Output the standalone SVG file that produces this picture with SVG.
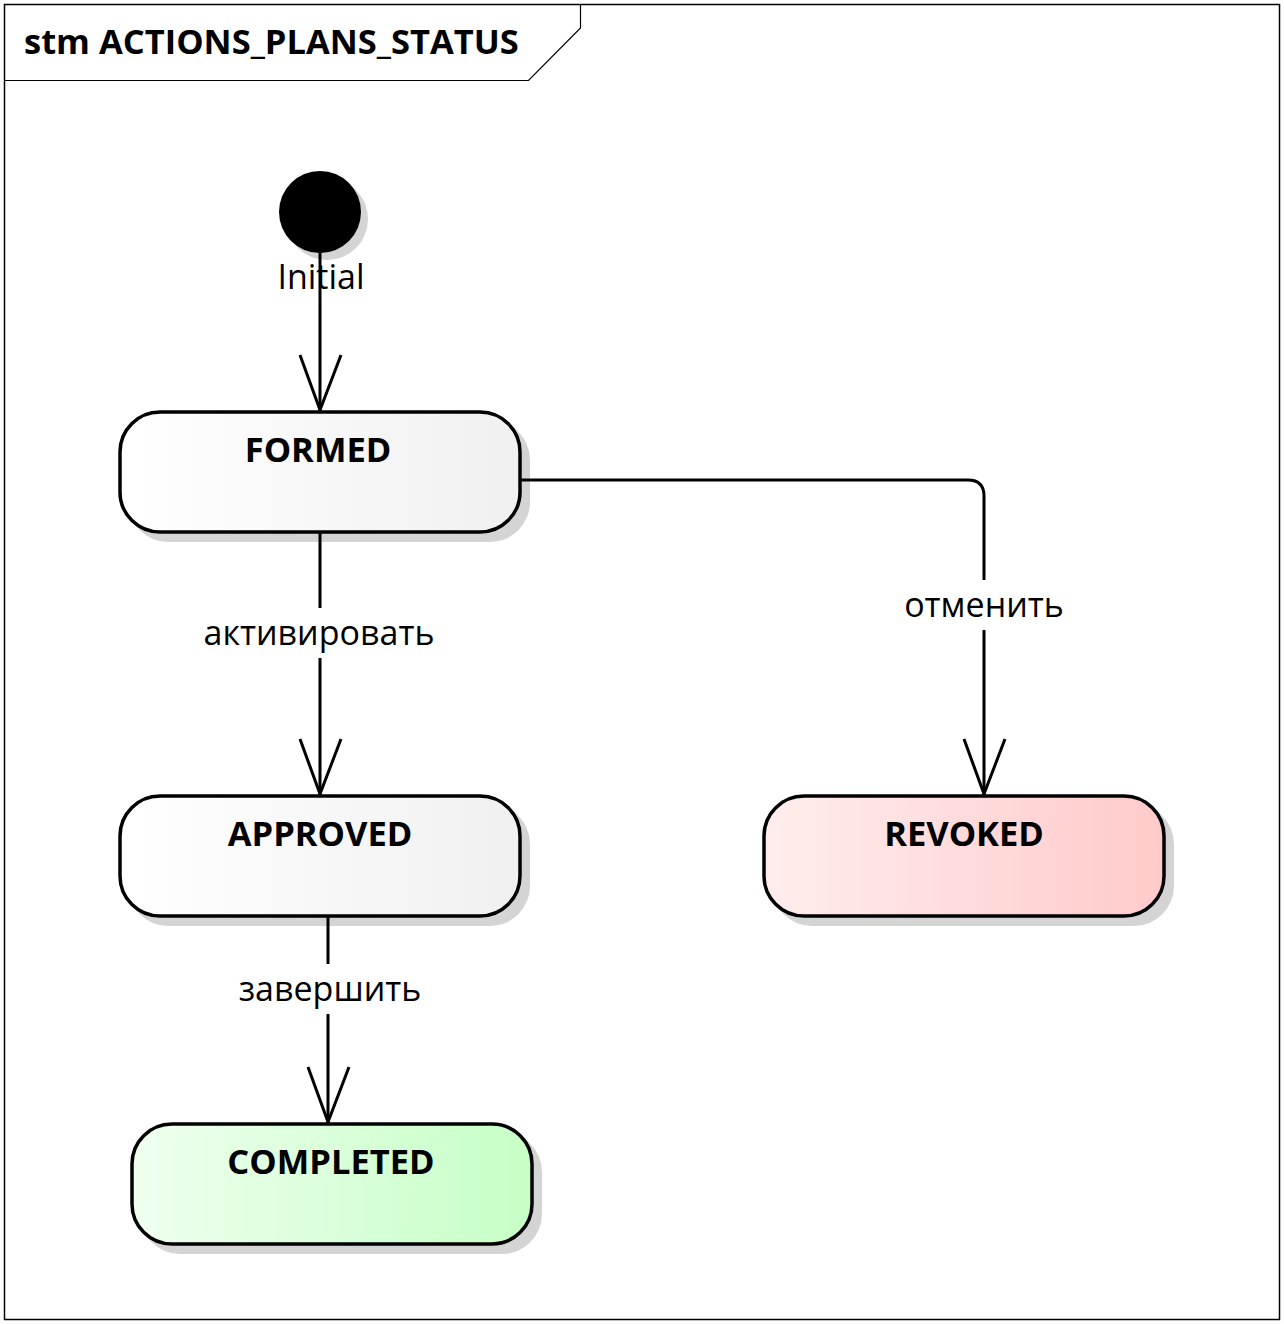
<svg xmlns="http://www.w3.org/2000/svg" width="1284" height="1324" viewBox="0 0 1284 1324">
<style>
.frame{fill:#fff;stroke:#000;stroke-width:1.5}
.hdr{fill:none;stroke:#000;stroke-width:1.2}
.title{font-family:"Open Sans","Noto Sans","DejaVu Sans",sans-serif;font-weight:bold;font-size:34.5px;fill:#000}
.st{stroke:#000;stroke-width:3.5}
.shadow{fill:#d4d4d4}
.name{font-family:"Open Sans","Noto Sans","DejaVu Sans",sans-serif;font-weight:bold;font-size:34.5px;fill:#000;text-anchor:middle}
.lbl{font-family:"Open Sans","Noto Sans","DejaVu Sans",sans-serif;font-size:34px;fill:#000;text-anchor:middle}
.conn{fill:none;stroke:#000;stroke-width:3}
.arr{fill:none;stroke:#000;stroke-width:3}
</style>
<defs>
<linearGradient id="gGray" x1="0" y1="0" x2="1" y2="0"><stop offset="0" stop-color="#ffffff"/><stop offset="1" stop-color="#f0f0f0"/></linearGradient>
<linearGradient id="gRed" x1="0" y1="0" x2="1" y2="0"><stop offset="0" stop-color="#ffeded"/><stop offset="1" stop-color="#ffcaca"/></linearGradient>
<linearGradient id="gGreen" x1="0" y1="0" x2="1" y2="0"><stop offset="0" stop-color="#efffef"/><stop offset="1" stop-color="#c6ffc6"/></linearGradient>
</defs>
<rect x="0" y="0" width="1284" height="1324" fill="#fff"/>
<rect class="frame" x="4.5" y="4.5" width="1275" height="1315"/>
<path class="hdr" d="M4.5 80.5 H528.5 L580.5 28 V4.5"/>
<text class="title" x="24" y="54">stm ACTIONS_PLANS_STATUS</text>

<g id="initial">
<circle class="shadow" cx="327" cy="219" r="41"/>
<circle cx="320" cy="212" r="41" fill="#000"/>
<text class="lbl" x="321" y="289">Initial</text>
</g>

<g id="FORMED">
<rect class="shadow" x="128" y="420" width="402" height="122" rx="40"/>
<rect class="st" x="120" y="412" width="400" height="120" rx="40" fill="url(#gGray)"/>
<text class="name" x="318" y="462">FORMED</text>
</g>

<g id="APPROVED">
<rect class="shadow" x="128" y="804" width="402" height="122" rx="40"/>
<rect class="st" x="120" y="796" width="400" height="120" rx="40" fill="url(#gGray)"/>
<text class="name" x="320" y="846">APPROVED</text>
</g>

<g id="REVOKED">
<rect class="shadow" x="772" y="804" width="402" height="122" rx="40"/>
<rect class="st" x="764" y="796" width="400" height="120" rx="40" fill="url(#gRed)"/>
<text class="name" x="964" y="846">REVOKED</text>
</g>

<g id="COMPLETED">
<rect class="shadow" x="140" y="1132" width="402" height="122" rx="40"/>
<rect class="st" x="132" y="1124" width="400" height="120" rx="40" fill="url(#gGreen)"/>
<text class="name" x="331" y="1174">COMPLETED</text>
</g>

<g id="connectors">
<path class="conn" d="M320 252 V410"/>
<path class="arr" d="M300 355 L320 410 L341 355"/>
<path class="conn" d="M320 533 V794"/>
<path class="arr" d="M300 739 L320 794 L341 739"/>
<path class="conn" d="M328 917 V1122"/>
<path class="arr" d="M308 1067 L328 1122 L349 1067"/>
<path class="conn" d="M521 480 H968 Q984 480 984 496 V794"/>
<path class="arr" d="M964 739 L984 794 L1005 739"/>
<rect x="198" y="608" width="244" height="50" fill="#fff"/>
<text class="lbl" x="319" y="645">активировать</text>
<rect x="234" y="964" width="194" height="50" fill="#fff"/>
<text class="lbl" x="330" y="1001">завершить</text>
<rect x="898" y="580" width="172" height="50" fill="#fff"/>
<text class="lbl" x="984" y="617">отменить</text>
</g>
</svg>
